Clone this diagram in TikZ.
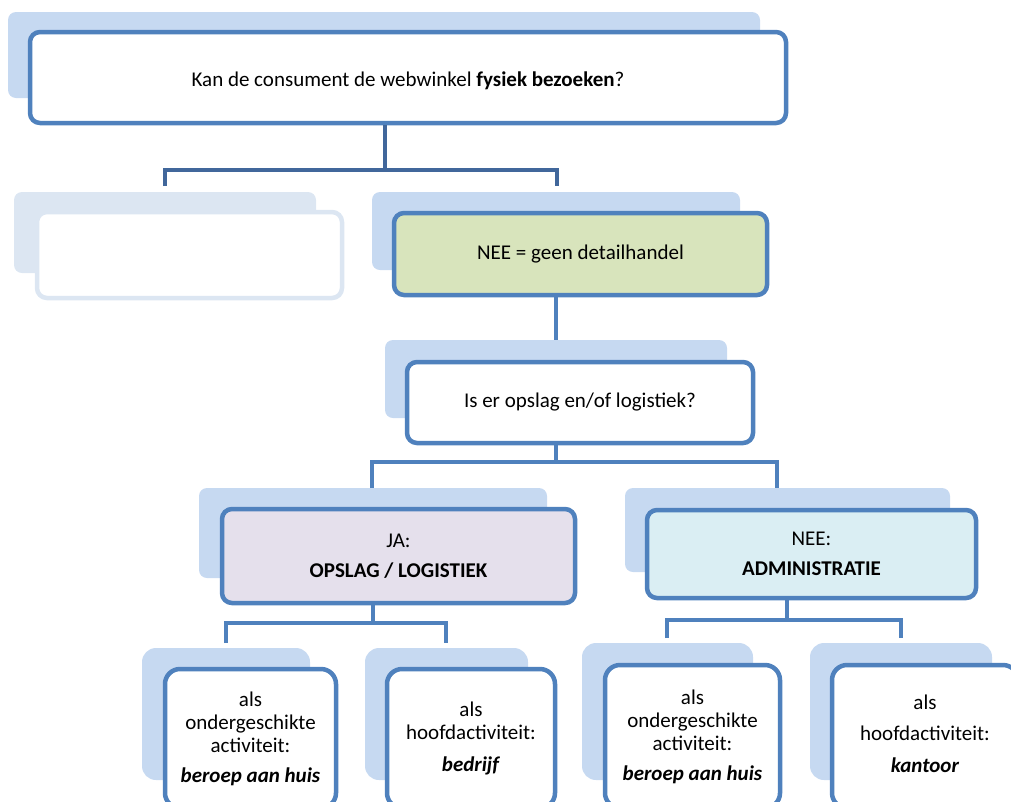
\documentclass[tikz,border=0pt]{standalone}
\usepackage{fontspec}
\setmainfont{Carlito}
\usepackage{xcolor}

\definecolor{rand}{HTML}{4F81BD}
\definecolor{schaduwkleur}{HTML}{C6D9F1}
\definecolor{vaag}{HTML}{DCE6F2}
\definecolor{stam}{HTML}{41679B}
\definecolor{groen}{HTML}{D8E4BC}
\definecolor{lila}{HTML}{E5E0EC}
\definecolor{cyaan}{HTML}{DAEEF3}

\begin{document}
\begin{tikzpicture}[x=1pt, y=-1pt,
      schaduw/.style={fill=schaduwkleur, rounded corners=8pt, inner sep=0pt},
      blok/.style={draw=rand, fill=white, line width=4.5pt, rounded corners=10pt, align=center, inner sep=0pt, font=\fontsize{21}{23}\selectfont},
      blad/.style={blok, rounded corners=15pt},
      lijn/.style={draw=rand, line width=4.5pt}]
    \useasboundingbox (0,0) rectangle (1011,801);
    \clip (0,0) rectangle (1011,801);

    % vraag 1
    \node[schaduw, minimum width=752pt, minimum height=86pt] (kansch) at (384,55) {};
    \node[blok, minimum width=756pt, minimum height=91pt, text height=21pt] (kan) at (408,77.5) {Kan de consument de webwinkel \textbf{fysiek bezoeken}?};

    % lege tak en NEE
    \node[schaduw, fill=vaag, minimum width=302pt, minimum height=81pt] (leegsch) at (165,232.5) {};
    \node[blok, draw=vaag, minimum width=305pt, minimum height=86pt] (leeg) at (189.5,255) {};
    \node[schaduw, minimum width=368pt, minimum height=78pt] (neesch) at (556,231) {};
    \node[blok, fill=groen, minimum width=373pt, minimum height=82pt] (nee) at (580.5,254) {NEE = geen detailhandel};

    % vraag 2
    \node[schaduw, minimum width=342pt, minimum height=78pt] (vraagsch) at (556,379) {};
    \node[blok, minimum width=346pt, minimum height=81pt] (vraag) at (580,402.5) {Is er opslag en/of logistiek?};

    % JA / NEE
    \node[schaduw, minimum width=348pt, minimum height=90pt] (jasch) at (373,533) {};
    \node[blok, fill=lila, minimum width=353pt, minimum height=94pt] (ja) at (398.5,556) {JA:\\[7pt]\textbf{OPSLAG / LOGISTIEK}};
    \node[schaduw, minimum width=325pt, minimum height=84pt] (admsch) at (787.5,530) {};
    \node[blok, fill=cyaan, minimum width=329pt, minimum height=88pt] (adm) at (811.5,554) {NEE:\\[7pt]\textbf{ADMINISTRATIE}};

    % bladeren
    \node[schaduw, rounded corners=14pt, minimum width=168pt, minimum height=132pt] (b1sch) at (226,714) {};
    \node[blad, minimum width=171pt, minimum height=139pt] (b1) at (250.5,738.5) {als\\ondergeschikte\\activiteit:\\[7pt]\textbf{\textit{beroep aan huis}}};
    \node[schaduw, rounded corners=14pt, minimum width=163pt, minimum height=132pt] (b2sch) at (446.5,714) {};
    \node[blad, minimum width=168pt, minimum height=139pt] (b2) at (471,738.5) {als\\hoofdactiviteit:\\[9pt]\textbf{\textit{bedrijf}}};
    \node[schaduw, rounded corners=14pt, minimum width=171pt, minimum height=137pt] (b3sch) at (667.5,711.5) {};
    \node[blad, minimum width=175pt, minimum height=143pt] (b3) at (692.5,736.5) {als\\ondergeschikte\\activiteit:\\[7pt]\textbf{\textit{beroep aan huis}}};
    \node[schaduw, rounded corners=14pt, minimum width=182pt, minimum height=137pt] (b4sch) at (901,711.5) {};
    \node[blad, minimum width=186pt, minimum height=143pt, text height=72pt] (b4) at (925,736.5) {als\\[8pt]hoofdactiviteit:\\[9pt]\textbf{\textit{kantoor}}};

    % verbindingen
    \coordinate (t1) at (385,170);
    \coordinate (t1l) at (165,186);
    \coordinate (t1r) at (557,186);
    \draw[lijn, draw=stam] (kan.south -| t1) -- (t1);
    \draw[lijn, draw=stam] (t1l) |- (t1) -| (t1r);
    \draw[lijn] (nee.south -| vraagsch) -- (vraagsch.north);

    \coordinate (t2) at (556,462);
    \coordinate (t2l) at (372,488);
    \coordinate (t2r) at (777,488);
    \draw[lijn] (vraag.south -| t2) -- (t2);
    \draw[lijn] (t2l) |- (t2) -| (t2r);

    \coordinate (t3) at (373,623);
    \coordinate (t3l) at (226,643);
    \coordinate (t3r) at (446,643);
    \draw[lijn] (ja.south -| t3) -- (t3);
    \draw[lijn] (t3l) |- (t3) -| (t3r);

    \coordinate (t4) at (787,620);
    \coordinate (t4l) at (667,638);
    \coordinate (t4r) at (901,638);
    \draw[lijn] (adm.south -| t4) -- (t4);
    \draw[lijn] (t4l) |- (t4) -| (t4r);
\end{tikzpicture}
\end{document}
